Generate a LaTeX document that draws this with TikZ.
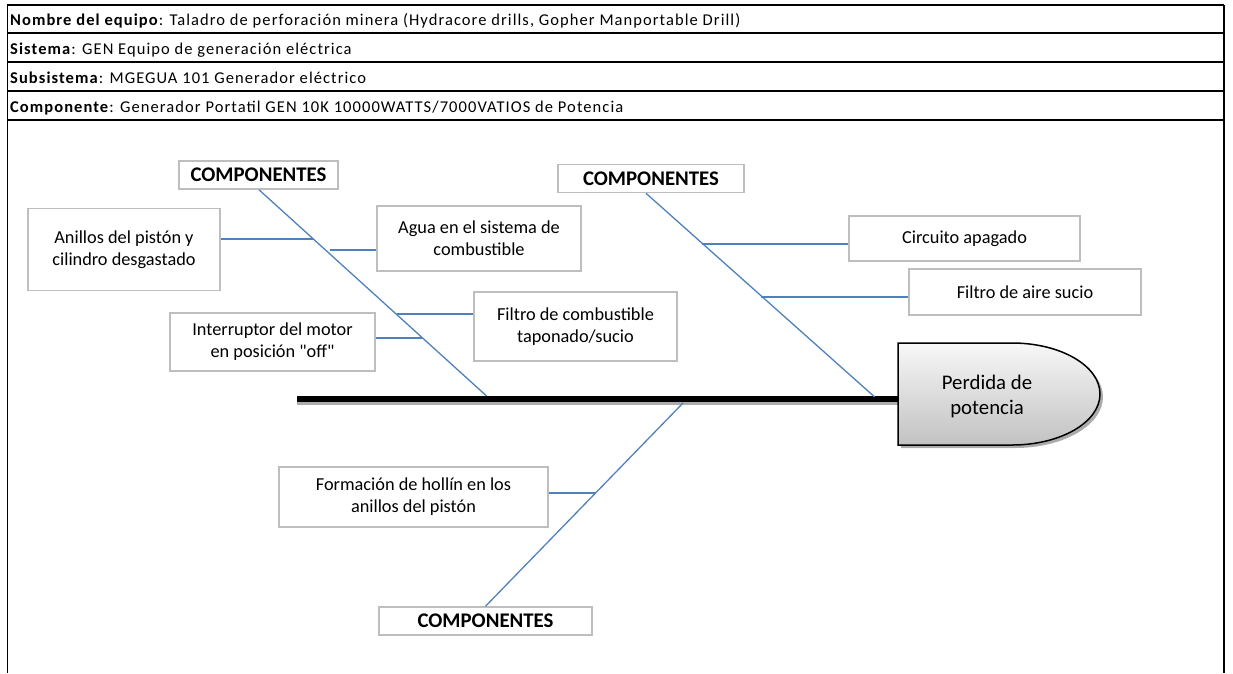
\documentclass[tikz,border=0pt]{standalone}
\usepackage{fontspec}
\setmainfont{Carlito}
\newfontfamily\hdrfont[LetterSpace=6.5]{Carlito}
\newcommand\straightdq{\XeTeXglyph\XeTeXcharglyph"22\relax}
\definecolor{fishblue}{RGB}{79,129,189}
\definecolor{boxgray}{RGB}{190,190,190}
\tikzset{
  hdrline/.style={line width=1.8pt, black},
  hdrtext/.style={anchor=base west, inner sep=0pt, font=\hdrfont\fontsize{16.5}{18}\selectfont},
  causebox/.style={draw=boxgray, line width=1.5pt, fill=white, align=center, inner sep=0pt,
    font=\fontsize{18.3}{22}\selectfont},
  compbox/.style={draw=boxgray, line width=1.5pt, fill=white, align=center, inner sep=0pt,
    minimum height=28pt, font=\fontsize{20.8}{22}\selectfont\bfseries},
  bone/.style={draw=fishblue, line width=1.3pt},
  twig/.style={draw=fishblue, line width=1.4pt},
  twigthick/.style={draw=fishblue, line width=2.6pt},
  twigmid/.style={draw=fishblue, line width=2pt},
}
\begin{document}
\begin{tikzpicture}[x=1pt,y=-1pt]
\useasboundingbox (0,0) rectangle (1233,673);
% header table
\draw[line width=1pt] (7,5) -- (7,673);
\draw[line width=2.6pt] (1224,5) -- (1224,673);
\foreach \yy in {5,33,62,91,120} \draw[hdrline] (7,\yy) -- (1224,\yy);
\node[hdrtext] (h1) at (10,25.5) {\textbf{Nombre del equipo}: Taladro de perforación minera (Hydracore drills, Gopher Manportable Drill)};
\node[hdrtext] (h2) at (10,54) {\textbf{Sistema}: GEN Equipo de generación eléctrica};
\node[hdrtext] (h3) at (10,83) {\textbf{Subsistema}: MGEGUA 101 Generador eléctrico};
\node[hdrtext] (h4) at (10,112) {\textbf{Componente}: Generador Portatil GEN 10K 10000WATTS/7000VATIOS de Potencia};

% spine
\coordinate (spineL) at (297,399);
\coordinate (spineR) at (898,399);
\draw[gray!65, line width=3pt] ([yshift=-4.5pt]spineL) -- ([yshift=-4.5pt]spineR);
\draw[black, line width=6pt] (spineL) -- (spineR);

% effect head
\fill[gray!65] (901,346) -- (1015,346) .. controls (1063.6,346) and (1103,368.8) .. (1103,397)
  .. controls (1103,425.2) and (1063.6,448) .. (1015,448) -- (901,448) -- cycle;
\path[draw=black, line width=1.5pt, top color=gray!6, bottom color=gray!48]
  (898,343) -- (1012,343) .. controls (1060.6,343) and (1100,365.8) .. (1100,394)
  .. controls (1100,422.2) and (1060.6,445) .. (1012,445) -- (898,445) -- cycle;
\node[align=center, inner sep=0pt, font=\fontsize{20.8}{25}\selectfont] (effect) at (987,396) {Perdida de\\potencia};

% category boxes
\node[compbox, minimum width=159pt] (comp1) at (258.5,175) {COMPONENTES};
\node[compbox, minimum width=186pt] (comp2) at (651,178.5) {COMPONENTES};
\node[compbox, minimum width=213pt] (comp3) at (485.5,621) {COMPONENTES};

% cause boxes
\node[causebox, minimum width=192pt, minimum height=82pt] (anillos) at (124,249.5) {Anillos del pistón y\\cilindro desgastado};
\node[causebox, minimum width=204pt, minimum height=65pt] (agua) at (479,238.5) {Agua en el sistema de\\combustible};
\node[causebox, minimum width=203pt, minimum height=69pt] (filtroc) at (575.5,326.5) {Filtro de combustible\\taponado/sucio};
\node[causebox, minimum width=205pt, minimum height=58pt] (interr) at (272.5,342) {Interruptor del motor\\en posición \straightdq off\straightdq};
\node[causebox, minimum width=231pt, minimum height=45pt] (circ) at (964.5,238.5) {Circuito apagado};
\node[causebox, minimum width=232pt, minimum height=46pt] (filtroa) at (1025,292) {Filtro de aire sucio};
\node[causebox, minimum width=269pt, minimum height=60pt] (form) at (413.5,497) {Formación de hollín en los\\anillos del pistón};

% bones
\coordinate (s1) at (486.6,396);
\coordinate (s2) at (874.7,397);
\coordinate (s3) at (683,403);
\draw[bone] (comp1.south -| 259,0) -- (s1);
\draw[bone] (comp2.south -| 646,0) -- (s2);
\draw[bone] (comp3.north) -- (s3);

% junctions
\coordinate (jan) at (313,239);
\coordinate (jag) at (330,250);
\coordinate (jfc) at (397,314);
\coordinate (jin) at (422,338);
\coordinate (jci) at (702,244);
\coordinate (jfa) at (761,297);
\coordinate (jfo) at (596,493);
\draw[twigthick] (anillos.east |- jan) -- (jan);
\draw[twig] (jag) -- (agua.west |- jag);
\draw[twigmid] (jfc) -- (filtroc.west |- jfc);
\draw[twigthick] (interr.east |- jin) -- (jin);
\draw[twigmid] (jci) -- (circ.west |- jci);
\draw[twigthick] (jfa) -- (filtroa.west |- jfa);
\draw[twigthick] (form.east |- jfo) -- (jfo);
\end{tikzpicture}
\end{document}
